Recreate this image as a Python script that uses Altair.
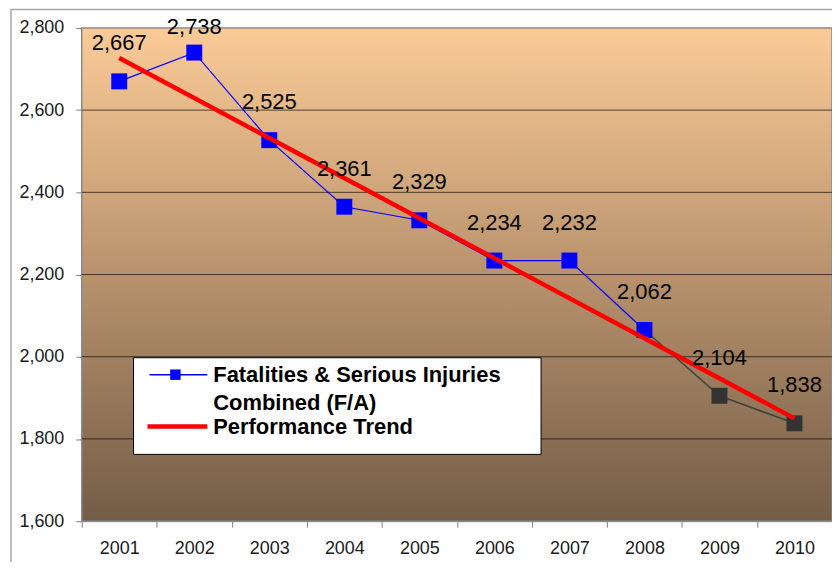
import altair as alt
import pandas as pd

years = ["2001", "2002", "2003", "2004", "2005", "2006", "2007", "2008", "2009", "2010"]
values = [2670, 2740, 2527, 2365, 2332, 2234, 2234, 2065, 1905, 1838]
labels = ["2,667", "2,738", "2,525", "2,361", "2,329", "2,234", "2,232", "2,062", "2,104", "1,838"]
groups = ["actual"] * 8 + ["projected"] * 2
trend_years = ["2001", "2010"]
trend_values = [2727, 1850]
y_ticks = [1600, 1800, 2000, 2200, 2400, 2600, 2800]
legend_line1 = "Fatalities & Serious Injuries"
legend_line2 = "Combined (F/A)"
legend_trend = "Performance Trend"

W, H = 753, 495
FONT = "Liberation Sans"

df = pd.DataFrame({"year": years, "value": values, "label": labels, "group": groups})
df_blue = df[df["group"] == "actual"]
last_actual = df_blue.index.max()
df_gray = df.loc[last_actual:]
df_trend = pd.DataFrame({"year": trend_years, "value": trend_values})
df_grid = pd.DataFrame({"value": y_ticks[1:-1]})

xscale = alt.Scale(type="band", domain=years, paddingInner=0, paddingOuter=0)
yscale = alt.Scale(domain=[y_ticks[0], y_ticks[-1]], nice=False, zero=False)

xaxis = alt.Axis(title=None, labelAngle=0, tickBand="extent", labelFont=FONT,
                 labelFontSize=18, labelColor="#1a1a1a", labelPadding=12,
                 tickSize=6, tickColor="#808080", domainColor="#808080", grid=False)
yaxis = alt.Axis(title=None, values=y_ticks, format=",.0f", labelFont=FONT,
                 labelFontSize=18, labelColor="#1a1a1a", labelPadding=12,
                 tickSize=6, tickColor="#808080", domainColor="#808080", grid=False)

X = alt.X("year:O", scale=xscale, sort=years, axis=xaxis)
Y = alt.Y("value:Q", scale=yscale, axis=yaxis)

one = alt.Data(values=[{}])

bg = alt.Chart(one).mark_rect(
    color={"gradient": "linear", "x1": 0, "y1": 0, "x2": 0, "y2": 1,
           "stops": [{"offset": 0, "color": "#FBCB97"},
                     {"offset": 0.5, "color": "#B8926D"},
                     {"offset": 1, "color": "#735D47"}]},
    stroke="#8a8a8a", strokeWidth=1.5
).encode(x=alt.value(0), x2=alt.value(W), y=alt.value(0), y2=alt.value(H))

frame = alt.Chart(one).mark_rect(fill="transparent", stroke="#a8a8a8", strokeWidth=1.5).encode(
    x=alt.value(-71), x2=alt.value(W + 40), y=alt.value(-18.5), y2=alt.value(H + 80))

grid = alt.Chart(df_grid).mark_rule(color="#000000", opacity=0.65, strokeWidth=1).encode(y=Y)

blue_line = alt.Chart(df_blue).mark_line(color="#0000FF", strokeWidth=1.2).encode(x=X, y=Y)
gray_line = alt.Chart(df_gray).mark_line(color="#404040", strokeWidth=1.5).encode(x=X, y=Y)

points = alt.Chart(df).mark_point(shape="square", filled=True, size=256, opacity=1).encode(
    x=X, y=Y,
    color=alt.Color("group:N", scale=alt.Scale(domain=["actual", "projected"],
                                               range=["#0000FF", "#333333"]), legend=None))

trend = alt.Chart(df_trend).mark_line(color="#FF0000", strokeWidth=4.5).encode(x=X, y=Y)

text = alt.Chart(df).transform_calculate(
    ly="min(datum.value, 2710)"
).mark_text(font=FONT, fontSize=22, color="#000000", dy=-38, baseline="middle").encode(
    x=X, y=alt.Y("ly:Q", scale=yscale, axis=yaxis), text="label:N")

leg_box = alt.Chart(one).mark_rect(fill="white", stroke="black", strokeWidth=1).encode(
    x=alt.value(52), x2=alt.value(461), y=alt.value(331), y2=alt.value(428))
leg_blue = alt.Chart(one).mark_rule(color="#0000FF", strokeWidth=1.5).encode(
    x=alt.value(68), x2=alt.value(126), y=alt.value(348))
leg_sq = alt.Chart(one).mark_point(shape="square", filled=True, size=110, color="#0000FF", opacity=1).encode(
    x=alt.value(94), y=alt.value(348))
leg_red = alt.Chart(one).mark_rule(color="#FF0000", strokeWidth=4.5).encode(
    x=alt.value(66), x2=alt.value(126), y=alt.value(400))
leg_t1 = alt.Chart(one).mark_text(font=FONT, fontSize=22, fontWeight="bold", align="left",
                                  baseline="alphabetic", color="black").encode(
    x=alt.value(132), y=alt.value(355), text=alt.value(legend_line1))
leg_t2 = alt.Chart(one).mark_text(font=FONT, fontSize=22, fontWeight="bold", align="left",
                                  baseline="alphabetic", color="black").encode(
    x=alt.value(132), y=alt.value(383), text=alt.value(legend_line2))
leg_t3 = alt.Chart(one).mark_text(font=FONT, fontSize=22, fontWeight="bold", align="left",
                                  baseline="alphabetic", color="black").encode(
    x=alt.value(132), y=alt.value(408), text=alt.value(legend_trend))

chart = alt.layer(
    bg, frame, grid, blue_line, gray_line, points, trend, text,
    leg_box, leg_blue, leg_sq, leg_red, leg_t1, leg_t2, leg_t3
).resolve_scale(color="independent").properties(
    width=W, height=H,
    autosize=alt.AutoSizeParams(type="none"),
    padding={"left": 74, "top": 19, "right": 0, "bottom": 40},
).configure_view(strokeWidth=0).configure(background="white")

chart.save("out.html", embed_options={"renderer": "svg", "actions": False})
